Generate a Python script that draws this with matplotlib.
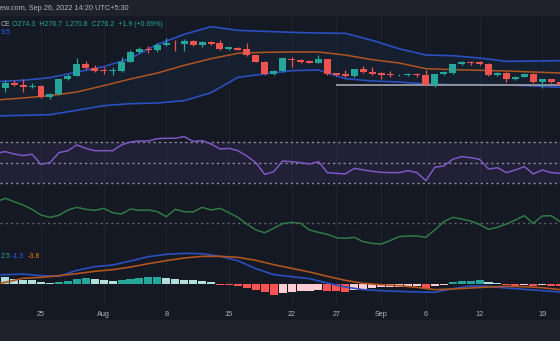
import numpy as np
import matplotlib
matplotlib.use("Agg")
from matplotlib import pyplot as plt
from matplotlib.patches import Rectangle

# daily candles, day 0 = Jul 25, 2022
days = np.arange(-4, 59)
opens = [267.5, 276, 272.5, 269, 271, 254, 259, 281, 286.5, 303.5, 297.5, 294.5, 293,
         293.5, 307.5, 322, 326, 325, 333, 336, 334, 338.5, 333, 337.5, 335, 326.5,
         328.5, 326, 317, 307.5, 289, 293.5, 312, 310, 309, 306, 311, 290, 288.5, 286,
         296, 292.5, 290, 289.5, 287, 287, 289.5, 287, 273, 289, 290, 304, 307.5, 306.5,
         304, 287.5, 290, 281, 285, 289, 276.5, 281, 277.5]
closes = [276, 272.5, 269, 271, 254, 259, 281.5, 286.5, 303.5, 297.5, 293.5, 293, 294.5,
          307.5, 322.5, 326, 325, 332.5, 335, 335, 338.5, 332.5, 337.5, 334.5, 326.5, 329,
          325.5, 317, 307.5, 289, 293.5, 312.5, 310, 307.5, 306, 311, 289, 287, 286, 296,
          292, 289, 287, 287, 288, 289.5, 287, 273, 289, 291.5, 303.5, 307.5, 306, 304,
          287.5, 291, 281, 285, 289, 277, 281, 276.5, 272.5]
highs = [280, 280, 281, 275, 272, 260, 281.5, 289, 312.5, 309, 302.5, 300, 300, 314, 325,
         330, 331, 335, 343.5, 340, 341, 340, 339, 339, 340, 330, 330, 335, 317.5, 308.5,
         295, 314, 314, 311, 310, 317.5, 312, 291, 295, 297, 301.5, 300, 292.5, 294, 289,
         290.5, 291, 295, 289.5, 293, 304, 308.5, 308.5, 308, 305, 292, 292.5, 286, 290,
         290, 282, 282, 278]
lows = [262.5, 271, 262.5, 267.5, 253, 251, 257.5, 280, 286, 296.5, 292.5, 289, 287.5,
        292.5, 307, 321, 320, 322.5, 331.5, 323.5, 324, 331, 330, 333, 325.5, 325, 325,
        316, 307, 288, 288, 292, 300, 305, 305, 305, 288, 286, 285, 285, 290, 287.5, 281.5,
        284, 286, 286, 285, 272, 269, 288, 289, 303, 302.5, 303, 286.5, 286, 277.5, 280,
        284, 276, 267.5, 276, 271]

# bollinger bands read every 3 days
band_days = np.arange(-5, 59, 3)
bb_upper = [277.5, 279.5, 283.5, 292, 300, 312.5, 333.5, 348.5, 360, 354.5, 353, 351.5,
            350.5, 350, 339.5, 327, 317.5, 316.5, 313, 308, 308.5, 309]
bb_basis = [250, 253, 256.5, 262, 271.5, 281.5, 290.5, 302, 312, 320, 321.5, 322, 322,
            317.5, 310.5, 305.5, 297, 295.5, 294.5, 293.5, 292, 290.5]
bb_lower = [226, 227, 228, 234.5, 241.5, 244.5, 245.5, 249, 261, 284, 289, 294, 295, 282,
            278.5, 277, 274, 273, 273, 272.5, 271, 269]
support_level = 272.5
support_start = 33

# oscillators
ind_days = np.arange(-5, 59)
rsi = [59.5, 61.1, 58.8, 57.2, 58.5, 48.7, 50.3, 60.1, 62.0, 67.6, 64.3, 62.0, 62.0, 62.0,
       67.6, 70.5, 71.5, 71.5, 73.7, 74.1, 74.1, 75.7, 71.1, 71.8, 68.5, 63.7, 64.3, 62.0,
       56.8, 50.3, 38.9, 41.5, 51.9, 51.3, 50.3, 49.0, 51.3, 40.6, 39.9, 39.3, 44.8, 43.2,
       41.9, 40.9, 40.6, 40.6, 42.5, 40.6, 32.8, 45.8, 47.1, 53.6, 56.2, 55.2, 53.6, 44.1,
       45.4, 40.6, 43.2, 46.4, 39.3, 43.2, 40.6, 39.9]
cmf = [0.063, 0.073, 0.063, 0.053, 0.040, 0.023, 0.016, 0.022, 0.038, 0.046, 0.040, 0.037,
       0.043, 0.030, 0.026, 0.041, 0.037, 0.038, 0.033, 0.018, 0.040, 0.033, 0.032, 0.046,
       0.038, 0.043, 0.030, 0.016, -0.004, -0.022, -0.030, -0.017, -0.003, 0.001, -0.002,
       -0.022, -0.029, -0.035, -0.045, -0.047, -0.044, -0.057, -0.062, -0.064, -0.054,
       -0.042, -0.040, -0.040, -0.044, -0.022, 0.003, 0.016, 0.011, 0.005, -0.005, -0.020,
       -0.014, -0.004, 0.008, 0.021, -0.002, 0.020, 0.021, 0.003]
macd_hist = [4.2, 3.0, 2.7, 2.6, 1.2, 0.6, 1.2, 2.0, 3.2, 3.6, 3.2, 2.6, 2.0, 2.6, 3.2, 3.8,
             4.0, 4.2, 3.6, 3.2, 2.6, 2.2, 1.6, 1.0, -0.4, -0.8, -1.4, -2.4, -3.8, -5.0,
             -6.4, -5.4, -4.8, -4.4, -4.0, -3.4, -4.0, -4.4, -5.0, -3.4, -3.0, -2.4, -2.0,
             -1.6, -1.5, -1.4, -1.3, -2.8, -1.4, -0.8, 1.0, 1.6, 2.0, 2.2, 1.0, 0.6, -0.8,
             -0.9, -0.4, -1.0, -0.4, -1.0, -1.1]
line_days = np.arange(-6, 59, 2)
macd_line = [5.6, 5.6, 6.0, 5.0, 4.6, 8.2, 10.4, 11.4, 13.8, 16.4, 17.8, 18.4, 18.2, 16.6,
             14.0, 9.2, 5.6, 4.4, 3.2, 0.6, -1.8, -3.4, -4.0, -4.4, -4.8, -5.0, -2.8, -1.2,
             -1.4, -2.4, -3.2, -4.0, -4.8]
signal_line = [-1.0, 1.0, 3.4, 4.0, 5.0, 6.2, 7.6, 8.6, 10.2, 12.2, 14.0, 15.6, 16.6, 16.6,
               16.0, 14.2, 11.6, 9.4, 7.2, 4.6, 2.2, 0.4, -0.4, -1.0, -2.0, -3.4, -3.0, -2.4,
               -1.8, -1.4, -1.6, -2.2, -3.4]

tick_days = [0, 7, 14, 21, 28, 33, 38, 43, 49, 56]
tick_labels = ['25', 'Aug', '8', '15', '22', '27', 'Sep', '6', '12', '19']

BG = '#151924'
BAR = '#1f222b'
GRID = '#1d2130'
UP, DOWN = '#26a69a', '#ef5350'
BLUE, ORANGE = '#2a4fc0', '#b0551f'
W, H = 560, 341
XLIM = (-4.58, 57.99)

plt.rcParams['font.family'] = ['Liberation Sans', 'DejaVu Sans']

fig = plt.figure(figsize=(W / 100, H / 100), dpi=100, facecolor=BG)
fig.patches.append(Rectangle((0, 1 - 15 / H), 1, 15 / H, transform=fig.transFigure,
                             color=BAR, zorder=0))
fig.patches.append(Rectangle((0, 0), 1, 21 / H, transform=fig.transFigure,
                             color=BAR, zorder=0))


def pane(top, bottom, ylim):
    ax = fig.add_axes([0, 1 - bottom / H, 1, (bottom - top) / H])
    ax.set_facecolor('none')
    ax.set_xlim(*XLIM)
    ax.set_ylim(*ylim)
    for s in ax.spines.values():
        s.set_visible(False)
    ax.set_yticks([])
    ax.set_xticks(tick_days)
    ax.set_xticklabels([])
    ax.tick_params(length=0)
    ax.grid(axis='x', color=GRID, lw=0.8)
    ax.set_axisbelow(True)
    return ax


# price pane
ax = pane(15, 135, (197.5, 377.5))
ax.fill_between(band_days, bb_lower, bb_upper, color='#2196f3', alpha=0.05, lw=0)
ax.plot(band_days, bb_upper, color=BLUE, lw=1.2)
ax.plot(band_days, bb_lower, color=BLUE, lw=1.2)
ax.plot(band_days, bb_basis, color=ORANGE, lw=1.1)
ax.hlines(support_level, support_start, XLIM[1], color='#8f929b', lw=1.4)

o, c = np.array(opens), np.array(closes)
cols = np.where(c >= o, UP, DOWN)
ax.vlines(days, lows, highs, colors=cols, lw=0.9, zorder=3)
ax.bar(days, np.maximum(np.abs(c - o), 0.8), bottom=np.minimum(o, c), width=0.78,
       color=cols, zorder=4)

# rsi pane
ax = pane(135, 188, (25.6, 77.3))
ax.axhspan(30, 70, color='#7e57c2', alpha=0.12, lw=0)
for lvl in (70, 50, 30):
    ax.axhline(lvl, color='#8a8d96', lw=1.0, ls=(0, (1.6, 2.2)))
ax.plot(ind_days, rsi, color='#7e57c2', lw=1.1)

# money flow pane
ax = pane(188, 246, (-0.070, 0.104))
ax.axhline(0, color='#5c5f6a', lw=1.0, ls=(0, (1.6, 2.2)))
ax.plot(ind_days, cmf, color='#2f7a45', lw=1.1)

# macd pane
ax = pane(246, 305, (-12.6, 22.8))
hist = np.array(macd_hist)
rising = np.diff(hist, prepend=np.inf) > 0
hcols = np.where(hist >= 0, np.where(rising, '#26a69a', '#b2dfdb'),
                 np.where(rising, '#ffcdd2', '#ff5252'))
ax.bar(days, hist, width=0.9, color=hcols)
ax.plot(line_days, macd_line, color=BLUE, lw=1.2)
ax.plot(line_days, signal_line, color=ORANGE, lw=1.2)
ax.set_xticklabels(tick_labels)
ax.tick_params(axis='x', colors='#b2b5be', labelsize=5.2, pad=4.5)

# legend texts
fig.text(0.0, 1 - 8.3 / H, 'ew.com, Sep 26, 2022 14:20 UTC+5:30', color='#b2b5be',
         fontsize=5.3, va='center')
fig.text(0.5 / W, 1 - 24 / H, 'CE', color='#b2b5be', fontsize=5, va='center')
fig.text(12.5 / W, 1 - 24 / H, 'O274.3  H276.7  L270.8  C276.2  +1.9 (+0.69%)', color=UP,
         fontsize=5, va='center')
fig.text(0.5 / W, 1 - 32.7 / H, '9.5', color='#2962ff', fontsize=5, va='center')
fig.text(0.5 / W, 1 - 256 / H, '2.5', color=UP, fontsize=5, va='center')
fig.text(12 / W, 1 - 256 / H, '-1.3', color='#2962ff', fontsize=5, va='center')
fig.text(28 / W, 1 - 256 / H, '-3.8', color='#f57c00', fontsize=5, va='center')

fig.savefig('out.png', dpi=100, facecolor=BG)
